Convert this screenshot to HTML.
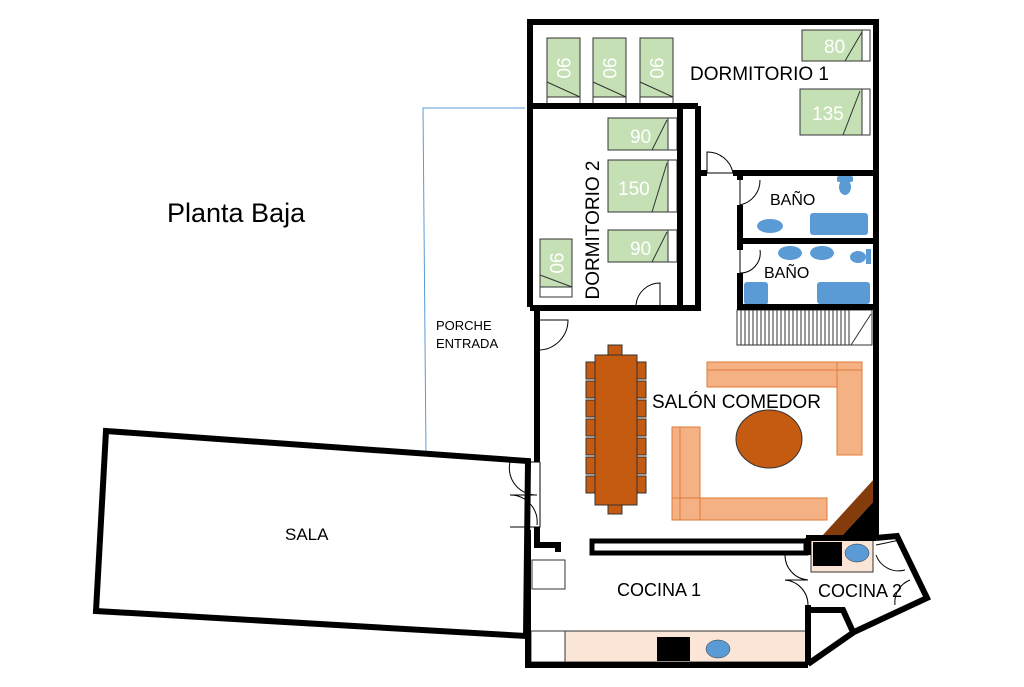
<!DOCTYPE html>
<html><head><meta charset="utf-8"><style>
html,body{margin:0;padding:0;background:#fff;}
svg{display:block;}
text{font-family:"Liberation Sans",sans-serif;}
</style></head><body>
<svg width="1024" height="687" viewBox="0 0 1024 687" xmlns="http://www.w3.org/2000/svg">
<rect width="1024" height="687" fill="#fff"/>
<polyline points="525,108 423,108 426,455" fill="none" stroke="#5b9bd5" stroke-width="1"/>
<text x="167" y="222" font-size="27" fill="#000">Planta Baja</text>
<text x="436" y="330" font-size="13">PORCHE</text>
<text x="436" y="348" font-size="13">ENTRADA</text>
<polygon points="106,431 528,461 526,636 96,611" fill="none" stroke="#000" stroke-width="6"/>
<text x="285" y="540" font-size="17">SALA</text>

<g stroke="#333" stroke-width="1">
<rect x="547" y="38" width="33" height="59" fill="#c5e0b4"/><rect x="547" y="97" width="33" height="8" fill="#fff"/>
<rect x="593" y="38" width="33" height="59" fill="#c5e0b4"/><rect x="593" y="97" width="33" height="8" fill="#fff"/>
<rect x="640" y="38" width="33" height="59" fill="#c5e0b4"/><rect x="640" y="97" width="33" height="8" fill="#fff"/>
<line x1="547" y1="82" x2="580" y2="97"/><line x1="593" y1="82" x2="626" y2="97"/><line x1="640" y1="82" x2="673" y2="97"/>
<rect x="802" y="30" width="60" height="31" fill="#c5e0b4"/><rect x="862" y="30" width="8" height="31" fill="#fff"/>
<line x1="845" y1="61" x2="862" y2="32"/>
<rect x="800" y="89" width="62" height="46" fill="#c5e0b4"/><rect x="862" y="89" width="8" height="46" fill="#fff"/>
<line x1="843" y1="135" x2="860" y2="91"/>
<rect x="608" y="118" width="60" height="32" fill="#c5e0b4"/><rect x="668" y="118" width="9" height="32" fill="#fff"/>
<line x1="652" y1="150" x2="667" y2="120"/>
<rect x="608" y="160" width="60" height="52" fill="#c5e0b4"/><rect x="668" y="160" width="9" height="52" fill="#fff"/>
<line x1="652" y1="212" x2="667" y2="163"/>
<rect x="608" y="230" width="60" height="32" fill="#c5e0b4"/><rect x="668" y="230" width="9" height="32" fill="#fff"/>
<line x1="652" y1="262" x2="667" y2="232"/>
<rect x="540" y="239" width="32" height="48" fill="#c5e0b4"/><rect x="540" y="287" width="32" height="10" fill="#fff"/>
<line x1="540" y1="275" x2="572" y2="287"/>
</g>
<g fill="#fff" font-size="19">
<text transform="translate(557,68) rotate(90)" text-anchor="middle">90</text>
<text transform="translate(603,68) rotate(90)" text-anchor="middle">90</text>
<text transform="translate(650,68) rotate(90)" text-anchor="middle">90</text>
<text transform="translate(550,263) rotate(90)" text-anchor="middle">90</text>
<text x="824" y="53">80</text>
<text x="812" y="120">135</text>
<text x="630" y="143">90</text>
<text x="618" y="195">150</text>
<text x="630" y="255">90</text>
</g>
<text x="690" y="80" font-size="19">DORMITORIO 1</text>
<text transform="translate(599,230) rotate(-90)" text-anchor="middle" font-size="19">DORMITORIO 2</text>

<g fill="#5b9bd5">
<rect x="837" y="176" width="16" height="6" rx="2"/><ellipse cx="845" cy="187" rx="6" ry="8"/>
<ellipse cx="770" cy="226" rx="13" ry="7"/>
<rect x="810" y="213" width="58" height="22" rx="3"/>
<ellipse cx="790" cy="253" rx="12" ry="7"/><ellipse cx="822" cy="253" rx="12" ry="7"/>
<ellipse cx="858" cy="257" rx="8" ry="6"/><rect x="866" y="249" width="5" height="15"/>
<rect x="744" y="282" width="24" height="23" rx="3"/>
<rect x="817" y="282" width="53" height="22" rx="3"/>
</g>
<text x="770" y="205" font-size="16">BAÑO</text>
<text x="764" y="278" font-size="16">BAÑO</text>

<g stroke="#333" stroke-width="1" fill="none">
<rect x="737" y="310" width="135" height="35"/>
<path d="M741 310V345M745 310V345M749 310V345M753 310V345M757 310V345M761 310V345M765 310V345M769 310V345M773 310V345M777 310V345M781 310V345M785 310V345M789 310V345M793 310V345M797 310V345M801 310V345M805 310V345M809 310V345M813 310V345M817 310V345M821 310V345M825 310V345M829 310V345M833 310V345M837 310V345M841 310V345M845 310V345M849 310V345"/>
<line x1="851" y1="345" x2="871" y2="314"/>
</g>

<g fill="#c55a11" stroke="#333" stroke-width="1">
<rect x="608" y="345" width="14" height="10"/><rect x="608" y="505" width="14" height="9"/>
<rect x="586" y="362" width="9" height="17"/><rect x="586" y="381" width="9" height="17"/><rect x="586" y="400" width="9" height="17"/><rect x="586" y="419" width="9" height="17"/><rect x="586" y="438" width="9" height="17"/><rect x="586" y="457" width="9" height="17"/><rect x="586" y="476" width="9" height="17"/>
<rect x="637" y="362" width="9" height="17"/><rect x="637" y="381" width="9" height="17"/><rect x="637" y="400" width="9" height="17"/><rect x="637" y="419" width="9" height="17"/><rect x="637" y="438" width="9" height="17"/><rect x="637" y="457" width="9" height="17"/><rect x="637" y="476" width="9" height="17"/>
<rect x="595" y="355" width="42" height="150"/>
<ellipse cx="769" cy="439" rx="33" ry="29"/>
</g>
<g fill="#f4b183" stroke="#e07b39" stroke-width="1">
<rect x="707" y="362" width="130" height="25"/>
<rect x="837" y="362" width="25" height="93"/>
<rect x="707" y="362" width="155" height="8" fill="none"/>
<rect x="672" y="427" width="28" height="93"/>
<rect x="672" y="498" width="155" height="22"/>
<rect x="680" y="427" width="20" height="93" fill="none"/>
</g>
<text x="652" y="408" font-size="19">SALÓN COMEDOR</text>
<polygon points="822,536 875,478 875,500 842,536" fill="#843c0c"/>
<polygon points="842,536 875,500 875,536" fill="#000"/>

<rect x="530" y="631" width="276" height="31" fill="#fbe5d6" stroke="#333" stroke-width="1"/>
<rect x="531" y="631" width="34" height="31" fill="#fff" stroke="#333" stroke-width="1"/>
<rect x="657" y="637" width="33" height="24" fill="#000"/>
<ellipse cx="718" cy="649" rx="12" ry="9" fill="#5b9bd5" stroke="#333" stroke-width="0.5"/>
<rect x="532" y="560" width="33" height="29" fill="#fff" stroke="#333" stroke-width="1"/>
<rect x="811" y="539" width="62" height="33" fill="#fbe5d6" stroke="#333" stroke-width="1"/>
<rect x="813" y="542" width="29" height="24" fill="#000"/>
<ellipse cx="857" cy="553" rx="12" ry="9" fill="#5b9bd5" stroke="#333" stroke-width="0.5"/>
<text x="617" y="596" font-size="18">COCINA 1</text>
<text x="818" y="597" font-size="18">COCINA 2</text>

<g fill="none" stroke="#000" stroke-width="1">
<path d="M707 173 V152 A26 26 0 0 1 733 173 Z"/>
<path d="M740 180 V205 A25 25 0 0 0 760 180"/>
<path d="M740 250 V273 A20 20 0 0 0 760 250"/>
<path d="M636 305 A24 24 0 0 1 660 283 V305"/>
<path d="M537 320 H568 A30 30 0 0 1 540 350"/>
<path d="M540 462 H510 A27 27 0 0 0 537 495 M537 495 H510 A27 27 0 0 1 537 525 M540 462 V527 H510"/>
<path d="M808 555 H785 A25 25 0 0 0 808 580 M808 580 H785 A25 25 0 0 1 808 605"/>
<path d="M876 545 L900 540 M876 555 A24 24 0 0 0 905 570 M910 580 A24 24 0 0 0 895 605"/>
</g>

<g fill="none" stroke="#000" stroke-width="6" stroke-linejoin="miter">
<polyline points="530,307 530,22 876,22 876,538"/>
<line x1="530" y1="106" x2="698" y2="106"/>
<polyline points="530,308 698,308 698,106"/>
<line x1="680" y1="106" x2="680" y2="308"/>
<line x1="698" y1="173" x2="707" y2="173"/>
<line x1="733" y1="173" x2="876" y2="173"/>
<line x1="740" y1="173" x2="740" y2="180"/><line x1="740" y1="205" x2="740" y2="250"/><line x1="740" y1="273" x2="740" y2="308"/>
<line x1="740" y1="241" x2="876" y2="241"/>
<line x1="737" y1="307" x2="876" y2="307"/>
<polyline points="537,308 537,462"/>
<polyline points="537,527 537,545 558,545 558,552"/>
<polyline points="528,530 528,665 808,665"/>
<rect x="592" y="541" width="214" height="12" stroke-width="5"/>
<line x1="806" y1="538" x2="876" y2="538"/>
<line x1="808" y1="538" x2="808" y2="555"/><line x1="808" y1="605" x2="808" y2="665"/>
<polyline points="876,538 897,536 927,598 854,632 808,664"/>
<polyline points="810,610 843,610 853,632"/>
</g>
</svg>
</body></html>
